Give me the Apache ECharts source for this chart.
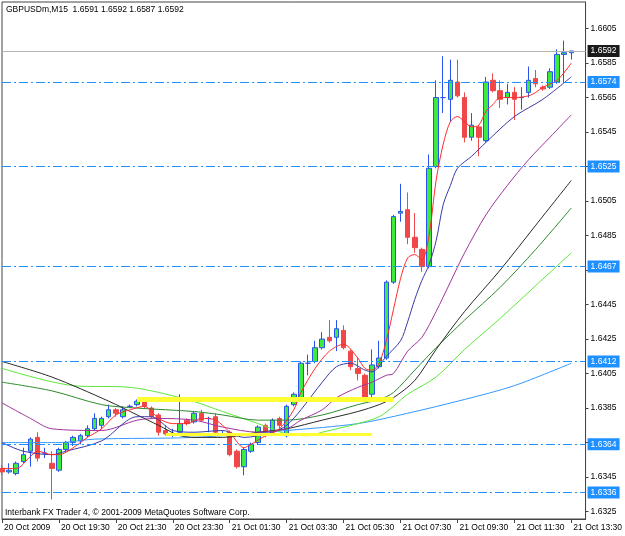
<!DOCTYPE html>
<html>
<head>
<meta charset="utf-8">
<title>GBPUSDm,M15</title>
<script src="https://cdn.jsdelivr.net/npm/echarts@6/dist/echarts.min.js"></script>
<style>
  html, body { margin: 0; padding: 0; background: #fff; }
  #chart { width: 625px; height: 536px; }
</style>
</head>
<body>
<div id="chart"></div>
<script>
// GBPUSDm M15, 20 Oct 2009 17:30 .. 21 Oct 2009 13:30
// [open, close, low, high]
const candles = [
  [1.6350, 1.6348, 1.6346, 1.6352],
  [1.6348, 1.6349, 1.6347, 1.6353],
  [1.6347, 1.6353, 1.6346, 1.6354],
  [1.6354, 1.6358, 1.6353, 1.6362],
  [1.6360, 1.6367, 1.6351, 1.6368],
  [1.6368, 1.6356, 1.6354, 1.6371],
  [1.6359, 1.6359, 1.6356, 1.6362],
  [1.6353, 1.6350, 1.6332, 1.6360],
  [1.6349, 1.6361, 1.6348, 1.6362],
  [1.6361, 1.6365, 1.6360, 1.6366],
  [1.6365, 1.6368, 1.6363, 1.6369],
  [1.6366, 1.6369, 1.6364, 1.6370],
  [1.6369, 1.6373, 1.6368, 1.6375],
  [1.6373, 1.6379, 1.6372, 1.6382],
  [1.6375, 1.6379, 1.6373, 1.6380],
  [1.6380, 1.6384, 1.6379, 1.6387],
  [1.6384, 1.6382, 1.6380, 1.6385],
  [1.6380, 1.6384, 1.6379, 1.6386],
  [1.6386, 1.6386, 1.6385, 1.6387],
  [1.6387, 1.6389, 1.6386, 1.6390],
  [1.6389, 1.6386, 1.6385, 1.6390],
  [1.6385, 1.6380, 1.6379, 1.6386],
  [1.6381, 1.6371, 1.6369, 1.6382],
  [1.6372, 1.6370, 1.6369, 1.6375],
  [1.6370, 1.6370, 1.6368, 1.6373],
  [1.6371, 1.6376, 1.6370, 1.6393],
  [1.6378, 1.6376, 1.6375, 1.6379],
  [1.6377, 1.6382, 1.6376, 1.6383],
  [1.6382, 1.6378, 1.6377, 1.6384],
  [1.6379, 1.6379, 1.6371, 1.6380],
  [1.6380, 1.6371, 1.6370, 1.6382],
  [1.6370, 1.6370, 1.6369, 1.6372],
  [1.6371, 1.6358, 1.6357, 1.6372],
  [1.6360, 1.6351, 1.6350, 1.6361],
  [1.6351, 1.6361, 1.6346, 1.6362],
  [1.6360, 1.6364, 1.6359, 1.6365],
  [1.6365, 1.6374, 1.6364, 1.6375],
  [1.6375, 1.6369, 1.6368, 1.6376],
  [1.6371, 1.6378, 1.6370, 1.6379],
  [1.6379, 1.6375, 1.6373, 1.6380],
  [1.6369, 1.6386, 1.6368, 1.6387],
  [1.6387, 1.6393, 1.6386, 1.6394],
  [1.6391, 1.6411, 1.6390, 1.6412],
  [1.6411, 1.6411, 1.6404, 1.6416],
  [1.6412, 1.6420, 1.6411, 1.6424],
  [1.6420, 1.6425, 1.6419, 1.6429],
  [1.6426, 1.6424, 1.6423, 1.6436],
  [1.6426, 1.6431, 1.6418, 1.6436],
  [1.6430, 1.6420, 1.6419, 1.6433],
  [1.6418, 1.6409, 1.6407, 1.6419],
  [1.6408, 1.6405, 1.6401, 1.6414],
  [1.6404, 1.6391, 1.6390, 1.6405],
  [1.6393, 1.6410, 1.6391, 1.6419],
  [1.6409, 1.6414, 1.6408, 1.6424],
  [1.6414, 1.6458, 1.6413, 1.6459],
  [1.6458, 1.6496, 1.6457, 1.6497],
  [1.6498, 1.6499, 1.6493, 1.6515],
  [1.6500, 1.6484, 1.6480, 1.6510],
  [1.6484, 1.6478, 1.6475, 1.6498],
  [1.6477, 1.6467, 1.6464, 1.6478],
  [1.6467, 1.6524, 1.6466, 1.6532],
  [1.6525, 1.6565, 1.6524, 1.6575],
  [1.6565, 1.6565, 1.6556, 1.6589],
  [1.6564, 1.6575, 1.6551, 1.6587],
  [1.6574, 1.6566, 1.6565, 1.6587],
  [1.6565, 1.6542, 1.6539, 1.6568],
  [1.6542, 1.6549, 1.6540, 1.6556],
  [1.6548, 1.6542, 1.6531, 1.6549],
  [1.6540, 1.6574, 1.6539, 1.6577],
  [1.6575, 1.6569, 1.6568, 1.6579],
  [1.6569, 1.6564, 1.6559, 1.6575],
  [1.6565, 1.6568, 1.6561, 1.6573],
  [1.6568, 1.6564, 1.6552, 1.6571],
  [1.6565, 1.6565, 1.6558, 1.6571],
  [1.6568, 1.6575, 1.6565, 1.6583],
  [1.6576, 1.6573, 1.6571, 1.6581],
  [1.6571, 1.6570, 1.6569, 1.6572],
  [1.6571, 1.6580, 1.6570, 1.6582],
  [1.6574, 1.6590, 1.6573, 1.6593],
  [1.6590, 1.6591, 1.6574, 1.6598],
  [1.6591, 1.6592, 1.6587, 1.6592]
];
const emptyBars = 2; // chart shift on the right

// moving averages, [bar index, price]
const maRed = [[0,1.6350],[2,1.6350],[4,1.6357],[5,1.6360],[7,1.6358],[8,1.6358],[10,1.6362],[12,1.6368],[14,1.6373],[16,1.6381],[18,1.6384],[20,1.6386],[22,1.6379],[24,1.6376],[26,1.6376],[28,1.6379],[30,1.6378],[32,1.6371],[34,1.6362],[35,1.6364],[37,1.6369],[39,1.6373],[41,1.6384],[42,1.6394],[44,1.6408],[46,1.6418],[48,1.6422],[50,1.6414],[51,1.6408],[52,1.6407],[53,1.6411],[54,1.6424],[55,1.6442],[56,1.6460],[57,1.6472],[58,1.6474],[59,1.6471],[60,1.6485],[61,1.6517],[62,1.6538],[63,1.6551],[64,1.6554],[65,1.6551],[66,1.6548],[67,1.6549],[68,1.6557],[69,1.6561],[70,1.6565],[72,1.6565],[74,1.6566],[75,1.6568],[76,1.6571],[78,1.6575],[80,1.6585]];
const maNavy = [[0,1.6365],[3,1.6360],[7,1.6358],[9,1.6360],[14,1.6366],[19,1.6380],[21,1.6380],[24,1.6372],[27,1.6371],[31,1.6372],[34,1.6368],[38,1.6371],[40,1.6375],[42,1.6384],[45,1.6400],[47,1.6409],[49,1.6411],[51,1.6407],[52,1.6406],[54,1.6415],[56,1.6424],[57,1.6435],[58,1.6448],[59,1.6459],[60,1.6468],[61,1.6482],[62,1.6503],[63,1.6514],[64,1.6524],[66,1.6531],[68,1.6539],[72,1.6554],[76,1.6564],[80,1.6577]];
const maPurple = [[0,1.6388],[4,1.6379],[7,1.6373],[14,1.6372],[19,1.6378],[22,1.6379],[27,1.6378],[31,1.6374],[36,1.6371],[40,1.6373],[42,1.6378],[45,1.6384],[47,1.6391],[50,1.6397],[52,1.6400],[54,1.6404],[55,1.6405],[57,1.6418],[59,1.6426],[61,1.6441],[63,1.6458],[65,1.6475],[68,1.6497],[71,1.6514],[74,1.6529],[77,1.6542],[80,1.6555]];
const maBlack = [[0,1.6412],[7,1.6403],[15,1.6389],[19,1.6381],[22,1.6375],[25,1.6369],[28,1.6368],[31,1.6368],[36,1.6371],[40,1.6373],[45,1.6378],[50,1.6383],[53,1.6387],[55,1.6391],[58,1.6401],[61,1.6419],[65,1.6441],[70,1.6465],[75,1.6491],[80,1.6517]];
const maDarkGreen = [[0,1.6400],[7,1.6395],[14,1.6387],[19,1.6385],[27,1.6383],[31,1.6381],[36,1.6378],[40,1.6378],[45,1.6381],[50,1.6387],[53,1.6390],[55,1.6394],[58,1.6407],[61,1.6420],[65,1.6436],[70,1.6455],[75,1.6477],[80,1.6501]];
const maLightGreen = [[0,1.6408],[10,1.6398],[18,1.6397],[26,1.6390],[31,1.6383],[36,1.6376],[40,1.6370],[43,1.6369],[45,1.6371],[50,1.6376],[53,1.6380],[55,1.6386],[57,1.6393],[61,1.6403],[65,1.6419],[70,1.6437],[75,1.6456],[80,1.6475]];
const maLightBlue = [[0,1.6365],[8,1.6365],[13,1.6367],[27,1.6368],[40,1.6372],[50,1.6376],[57,1.6382],[65,1.6390],[72,1.6398],[80,1.6411]];

// horizontal levels and zones
const levelLines = [1.6574, 1.6525, 1.6467, 1.6412, 1.6364, 1.6336];
const bidPrice = 1.6592;
const zoneUpper = { from: 19, to: 55, price: 1.6390 };
const zoneLower = { from: 23, to: 52, price: 1.6370 };

// axis labels
const priceTicks = [1.6325, 1.6345, 1.6365, 1.6385, 1.6405, 1.6425, 1.6445, 1.6465, 1.6485, 1.6505, 1.6525, 1.6545, 1.6565, 1.6585, 1.6605];
const tickLabels = ['20 Oct 2009', '20 Oct 19:30', '20 Oct 21:30', '20 Oct 23:30', '21 Oct 01:30', '21 Oct 03:30', '21 Oct 05:30', '21 Oct 07:30', '21 Oct 09:30', '21 Oct 11:30', '21 Oct 13:30'];
const tickEvery = 8;
const yMin = 1.63207, yMax = 1.66204;

const months = ['Jan','Feb','Mar','Apr','May','Jun','Jul','Aug','Sep','Oct','Nov','Dec'];
const pad = n => (n < 10 ? '0' : '') + n;
const categories = [];
for (let i = 0; i < candles.length + emptyBars; i++) {
  const t = new Date(Date.UTC(2009, 9, 20, 17, 30) + i * 15 * 60000);
  categories.push(t.getUTCDate() + ' ' + months[t.getUTCMonth()] + ' ' + pad(t.getUTCHours()) + ':' + pad(t.getUTCMinutes()));
}
const firstCat = categories[0];
const lastCat = categories[categories.length - 1];

const font = 'Liberation Sans, Arial, sans-serif';
const fs = 8.5;

function maSeries(data, color) {
  return {
    type: 'line', data: data, symbol: 'none', smooth: 0.3, z: 4, silent: true,
    lineStyle: { color: color, width: 1 }
  };
}

// full-width horizontal line with the price box on the right
function levelItem(v, lineColor, boxColor, type) {
  return [
    {
      coord: [firstCat, v],
      lineStyle: { color: lineColor, width: 1, type: type },
      label: {
        show: true, position: 'end', distance: 2, formatter: v.toFixed(4),
        color: '#fff', backgroundColor: boxColor, padding: [2, 3, 1, 3],
        fontSize: fs, fontFamily: font
      }
    },
    { coord: [lastCat, v] }
  ];
}

function zoneItem(z, width) {
  return [
    { coord: [categories[z.from], z.price], lineStyle: { color: '#ffff33', width: width, type: 'solid' }, label: { show: false } },
    { coord: [categories[z.to], z.price] }
  ];
}

const chart = echarts.init(document.getElementById('chart'));
chart.setOption({
  animation: false,
  backgroundColor: '#fff',
  grid: { left: 2, right: 36, top: 2, bottom: 17, show: true, borderColor: '#444', borderWidth: 1, backgroundColor: '#fff' },
  xAxis: {
    type: 'category', data: categories, boundaryGap: false,
    axisLine: { show: true, lineStyle: { color: '#444' } },
    axisTick: { show: true, length: 4, interval: i => i % tickEvery === 0, lineStyle: { color: '#444' } },
    axisLabel: {
      interval: i => i % tickEvery === 0 && i / tickEvery < tickLabels.length,
      formatter: (v, i) => tickLabels[i / tickEvery],
      align: 'left', margin: 4, padding: [0, 0, 0, 2],
      color: '#000', fontSize: fs, fontFamily: font
    },
    splitLine: { show: false }
  },
  yAxis: {
    type: 'value', position: 'right', min: yMin, max: yMax,
    axisLine: { show: true, lineStyle: { color: '#444' } },
    axisTick: { show: true, length: 3, customValues: priceTicks, lineStyle: { color: '#444' } },
    axisLabel: {
      customValues: priceTicks, margin: 5, formatter: v => v.toFixed(4),
      showMinLabel: true, showMaxLabel: true, hideOverlap: false,
      color: '#000', fontSize: fs, fontFamily: font
    },
    splitLine: { show: false }
  },
  graphic: [
    { type: 'text', left: 6, top: 5, style: { text: 'GBPUSDm,M15  1.6591 1.6592 1.6587 1.6592', fill: '#000', font: fs + 'px ' + font } },
    { type: 'text', left: 5, top: 508, style: { text: 'Interbank FX Trader 4, \u00a9 2001-2009 MetaQuotes Software Corp.', fill: '#000', font: fs + 'px ' + font } }
  ],
  series: [
    {
      type: 'line', data: [], z: 1, silent: true,
      markLine: {
        symbol: 'none', silent: true, animation: false,
        data: [
          zoneItem(zoneUpper, 5),
          zoneItem(zoneLower, 3),
          levelItem(bidPrice, '#b4b4b4', '#1a1a1a', 'solid')
        ].concat(levelLines.map(v => levelItem(v, '#1e90ff', '#1e90ff', [9, 3, 2, 3])))
      }
    },
    {
      type: 'candlestick', data: candles, barWidth: 5, z: 3,
      itemStyle: {
        color: '#3dea3d', color0: '#f04848',
        borderColor: '#2a52f0', borderColor0: '#f04848',
        borderColorDoji: '#2a52f0', borderWidth: 1
      }
    },
    maSeries(maLightBlue, '#3399ff'),
    maSeries(maLightGreen, '#5ee83a'),
    maSeries(maDarkGreen, '#2e8b2e'),
    maSeries(maBlack, '#2a2a2a'),
    maSeries(maPurple, '#a035a0'),
    maSeries(maNavy, '#3a3aa8'),
    maSeries(maRed, '#ff2b2b')
  ]
});
</script>
</body>
</html>
